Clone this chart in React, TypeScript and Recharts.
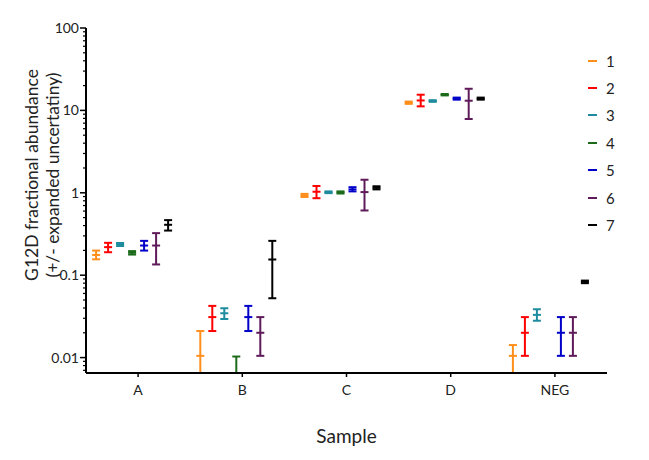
import { ScatterChart, Scatter, XAxis, YAxis, ErrorBar, Legend } from "recharts";

const samples = ["A", "B", "C", "D", "NEG"];
const seriesNames = ["1", "2", "3", "4", "5", "6", "7"];
const seriesColors = ["#FF8F1C", "#FF0000", "#1E8C9E", "#1B6B1B", "#0000C8", "#5F1A5A", "#000000"];

const yDomain = [0.0065, 100];

// central value per sample (A, B, C, D, NEG); null = not measured
const means: (number | null)[][] = [
  [0.176, 0.0105, 0.93, 12.4, 0.0105],
  [0.219, 0.031, 1.03, 13.2, 0.02],
  [0.236, 0.0345, 1.01, 13.0, 0.033],
  [0.187, 0.005, 1.01, 15.5, null],
  [0.229, 0.031, 1.1, 13.95, 0.02],
  [0.229, 0.02, 1.02, 13.1, 0.02],
  [0.409, 0.155, 1.15, 13.9, 0.083],
];
// lower end of the expanded uncertainty (bars running off the axis end at its floor)
const lows: (number | null)[][] = [
  [0.156, 0.0065, 0.89, 12.0, 0.0065],
  [0.19, 0.021, 0.86, 11.2, 0.0105],
  [0.226, 0.0294, 0.99, 12.7, 0.028],
  [0.178, 0.0065, 0.98, 15.2, null],
  [0.199, 0.021, 1.04, 13.5, 0.0105],
  [0.135, 0.0105, 0.61, 7.86, 0.0105],
  [0.348, 0.0525, 1.1, 13.5, 0.08],
];
// upper end of the expanded uncertainty
const highs: (number | null)[][] = [
  [0.199, 0.021, 0.97, 12.8, 0.0142],
  [0.247, 0.0424, 1.21, 15.5, 0.031],
  [0.246, 0.0397, 1.04, 13.3, 0.0386],
  [0.196, 0.0103, 1.04, 15.8, null],
  [0.261, 0.0424, 1.17, 14.3, 0.031],
  [0.324, 0.031, 1.44, 18.3, 0.031],
  [0.466, 0.261, 1.2, 14.3, 0.086],
];

const majorTicks = [0.01, 0.1, 1, 10, 100];
const majorLabels = ["0.01", "0.1", "1", "10", "100"];
const minorSteps = [2, 3, 4, 5, 6, 7, 8, 9];

const font = "Lato, 'Open Sans', sans-serif";
const slot = 12 / 104.2; // spacing of the series inside a sample group

const yTicks = [
  0.007, 0.008, 0.009,
  ...majorTicks.slice(0, 4).flatMap((t) => [t, ...minorSteps.map((m) => +(t * m).toPrecision(3))]),
  100,
];

const seriesData = seriesNames.map((_, si) =>
  samples
    .map((_, gi) => {
      const y = means[si][gi];
      const lo = lows[si][gi];
      const hi = highs[si][gi];
      if (y == null || lo == null || hi == null) return null;
      return { x: gi + 0.5 + (si - 3.5) * slot, y, err: [y - lo, hi - y] };
    })
    .filter((d) => d !== null)
);

const YTick = (props: any) => {
  const { x, y, payload } = props;
  const idx = majorTicks.indexOf(payload.value);
  const major = idx >= 0;
  return (
    <g>
      <line x1={x - (major ? 6 : 3)} x2={x} y1={y} y2={y} stroke="#000" strokeWidth={major ? 1.5 : 1.2} />
      {major && (
        <text x={x - 7} y={y} dy={5} textAnchor="end" fontFamily={font} fontSize={14} fill="#222">
          {majorLabels[idx]}
        </text>
      )}
    </g>
  );
};

const renderYLabel = () => (
  <text transform="rotate(-90)" textAnchor="middle" fontFamily={font} fontSize={17.5} fill="#222">
    <tspan x={-175} y={38}>G12D fractional abundance</tspan>
    <tspan x={-175} y={59}>(+/- expanded uncertatiny)</tspan>
  </text>
);

const renderLegend = () => (
  <div style={{ fontFamily: font, fontSize: 15, color: "#222" }}>
    {seriesNames.map((n, i) => (
      <div key={n} style={{ height: 27.4, display: "flex", alignItems: "center" }}>
        <span style={{ display: "inline-block", width: 9, height: 2, background: seriesColors[i], marginRight: 9 }} />
        <span>{n}</span>
      </div>
    ))}
  </div>
);

export default function App() {
  return (
    <div style={{ position: "absolute", left: 0, top: 0, width: 649, height: 460, background: "#fff" }}>
      <ScatterChart width={649} height={460} margin={{ top: 28, right: 42, bottom: 57, left: 26 }}>
        <XAxis
          type="number"
          dataKey="x"
          domain={[0, 5]}
          allowDataOverflow
          ticks={samples.map((_, i) => i + 0.5)}
          tickFormatter={(v: number) => samples[Math.floor(v)]}
          height={30}
          tickSize={4}
          tickMargin={8}
          axisLine={{ stroke: "#000", strokeWidth: 2 }}
          tickLine={{ stroke: "#000", strokeWidth: 1.5 }}
          tick={{ fill: "#222", fontSize: 14, fontFamily: font }}
          label={{ value: "Sample", position: "bottom", offset: 27, fill: "#222", fontSize: 19, fontFamily: font }}
        />
        <YAxis
          type="number"
          dataKey="y"
          scale="log"
          domain={yDomain}
          allowDataOverflow
          ticks={yTicks}
          interval={0}
          width={60}
          tickSize={0}
          tickMargin={0}
          tickLine={false}
          axisLine={{ stroke: "#000", strokeWidth: 2 }}
          tick={<YTick />}
          label={{ content: renderYLabel }}
        />
        <Legend
          layout="vertical"
          align="center"
          verticalAlign="middle"
          content={renderLegend}
          wrapperStyle={{ left: 588, top: 47, width: 50 }}
        />
        {seriesNames.map((name, si) => (
          <Scatter
            key={name}
            name={name}
            data={seriesData[si]}
            isAnimationActive={false}
            shape={(p: any) =>
              p.payload.y < yDomain[0] ? (
                <g />
              ) : (
                <line x1={p.cx - 4} x2={p.cx + 4} y1={p.cy} y2={p.cy} stroke={seriesColors[si]} strokeWidth={2} />
              )
            }
          >
            <ErrorBar
              dataKey="err"
              direction="y"
              width={4}
              stroke={seriesColors[si]}
              strokeWidth={2}
              isAnimationActive={false}
            />
          </Scatter>
        ))}
      </ScatterChart>
    </div>
  );
}
